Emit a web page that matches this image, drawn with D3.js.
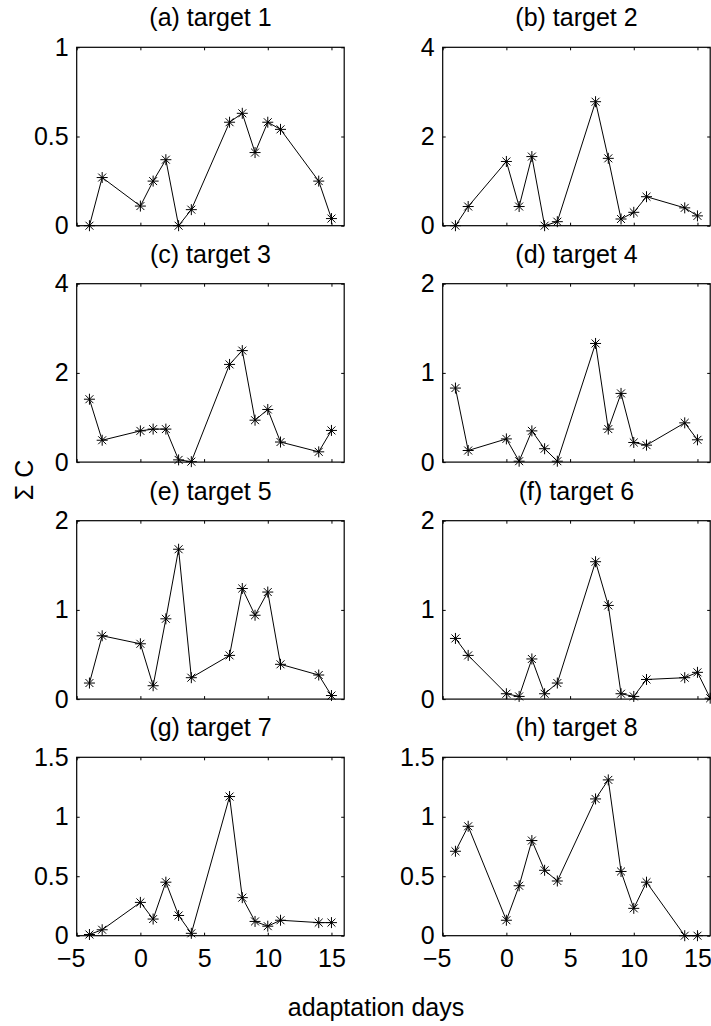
<html>
  <head>
    <meta charset="utf-8" />
    <title>Targets</title>
    <script src="https://d3js.org/d3.v7.min.js"></script>
    <style>
      body {
        margin: 0;
        background: #fff;
      }
      text {
        font-family: "Liberation Sans", Arial, sans-serif;
        fill: #000;
      }
    </style>
  </head>
  <body>
    <svg id="chart"></svg>

    <script>
      // days relative to adaptation start
      var days = [-4, -3, 0, 1, 2, 3, 4, 7, 8, 9, 10, 11, 14, 15];
      var days6 = [-4, -3, 0, 1, 2, 3, 4, 7, 8, 9, 10, 11, 14, 15, 16];

      var target1 = [0, 0.27, 0.11, 0.25, 0.37, 0, 0.09, 0.58, 0.63, 0.41, 0.58, 0.54, 0.25, 0.04];
      var target2 = [0, 0.43, 1.44, 0.43, 1.55, 0, 0.09, 2.78, 1.51, 0.15, 0.30, 0.65, 0.40, 0.22];
      var target3 = [1.41, 0.49, 0.70, 0.74, 0.74, 0.05, 0.01, 2.19, 2.50, 0.94, 1.18, 0.45, 0.23, 0.71];
      var target4 = [0.83, 0.13, 0.26, 0.01, 0.35, 0.15, 0.01, 1.33, 0.37, 0.77, 0.22, 0.19, 0.44, 0.25];
      var target5 = [0.18, 0.71, 0.62, 0.15, 0.90, 1.68, 0.24, 0.49, 1.24, 0.94, 1.20, 0.39, 0.27, 0.04];
      var target6 = [0.68, 0.49, 0.06, 0.03, 0.45, 0.06, 0.18, 1.54, 1.05, 0.06, 0.03, 0.22, 0.24, 0.30, 0.01];
      var target7 = [0.01, 0.05, 0.28, 0.14, 0.45, 0.17, 0.02, 1.17, 0.32, 0.12, 0.08, 0.13, 0.11, 0.11];
      var target8 = [0.71, 0.92, 0.13, 0.42, 0.80, 0.55, 0.46, 1.15, 1.31, 0.54, 0.23, 0.45, 0, 0];

      var titles = ["(a) target 1", "(b) target 2", "(c) target 3", "(d) target 4",
                    "(e) target 5", "(f) target 6", "(g) target 7", "(h) target 8"];
      var yMaxes = [1, 4, 4, 2, 2, 2, 1.5, 1.5];
      var yTicks = [[0, 0.5, 1], [0, 2, 4], [0, 2, 4], [0, 1, 2],
                    [0, 1, 2], [0, 1, 2], [0, 0.5, 1, 1.5], [0, 0.5, 1, 1.5]];
      var xTicks = [-5, 0, 5, 10, 15];
      var xDomain = [-5, 16];

      var series = [target1, target2, target3, target4, target5, target6, target7, target8];
      var xs = [days, days, days, days, days, days6, days, days];

      var width = 711;
      var height = 1026;
      var fontSize = 25;

      var colLeft = [76.7, 442.7];
      var rowTop = [47.3, 283.7, 520.7, 757.3];
      var panelW = 267.5;
      var panelH = 178.4;

      var svg = d3.select("#chart")
        .attr("width", width)
        .attr("height", height);

      var x = d3.scaleLinear().domain(xDomain).range([0, panelW]);

      // asterisk marker: plus + cross
      var r = 5.5, d = r * 0.72;
      var star = "M" + (-r) + ",0H" + r + "M0," + (-r) + "V" + r +
        "M" + (-d) + "," + (-d) + "L" + d + "," + d +
        "M" + (-d) + "," + d + "L" + d + "," + (-d);

      series.forEach(function(vals, i) {
        var col = i % 2;
        var row = Math.floor(i / 2);
        var g = svg.append("g")
          .attr("transform", "translate(" + colLeft[col] + "," + rowTop[row] + ")");

        var y = d3.scaleLinear().domain([0, yMaxes[i]]).range([panelH, 0]);
        var pts = vals.map(function(v, j) { return [xs[i][j], v]; });

        // axes with inward ticks on all four sides
        g.append("g")
          .call(d3.axisLeft(y).tickValues(yTicks[i]).tickSizeInner(-3).tickSizeOuter(0).tickPadding(8)
            .tickFormat(d3.format("")));
        g.append("g").attr("transform", "translate(" + panelW + ",0)")
          .call(d3.axisRight(y).tickValues(yTicks[i]).tickSizeInner(-3).tickSizeOuter(0).tickFormat(""));
        g.append("g")
          .call(d3.axisTop(x).tickValues(xTicks).tickSizeInner(-3).tickSizeOuter(0).tickFormat(""));
        var bottom = g.append("g").attr("transform", "translate(0," + panelH + ")")
          .call(d3.axisBottom(x).tickValues(xTicks).tickSizeInner(-3).tickSizeOuter(0).tickPadding(13.5)
            .tickFormat(row === 3 ? d3.format("") : ""));

        // negative labels sit a little left, as in the original
        bottom.selectAll(".tick text")
          .attr("dx", function(t) { return t < 0 ? -6 : 0; });

        g.selectAll(".domain").remove();
        g.selectAll(".tick line").attr("stroke", "#000").attr("stroke-width", 1);
        g.selectAll(".tick text")
          .style("font-size", fontSize + "px")
          .style("font-family", "'Liberation Sans', Arial, sans-serif")
          .attr("fill", "#000");

        // frame
        g.append("rect")
          .attr("x", 0).attr("y", 0)
          .attr("width", panelW).attr("height", panelH)
          .attr("fill", "none")
          .attr("stroke", "#000")
          .attr("stroke-width", 1.2);

        // title
        g.append("text")
          .attr("x", panelW / 2)
          .attr("y", -21)
          .attr("text-anchor", "middle")
          .style("font-size", fontSize + "px")
          .text(titles[i]);

        var line = d3.line()
          .x(function(p) { return x(p[0]); })
          .y(function(p) { return y(p[1]); });

        g.append("path")
          .datum(pts)
          .attr("d", line)
          .attr("fill", "none")
          .attr("stroke", "#000")
          .attr("stroke-width", 1);

        g.selectAll(".mark")
          .data(pts)
          .enter().append("path")
          .attr("class", "mark")
          .attr("transform", function(p) { return "translate(" + x(p[0]) + "," + y(p[1]) + ")"; })
          .attr("d", star)
          .attr("fill", "none")
          .attr("stroke", "#000")
          .attr("stroke-width", 1);
      });

      // shared axis labels
      svg.append("text")
        .attr("transform", "translate(33,480) rotate(-90)")
        .attr("text-anchor", "middle")
        .style("font-size", fontSize + "px")
        .text("Σ C");

      svg.append("text")
        .attr("x", 376)
        .attr("y", 1016)
        .attr("text-anchor", "middle")
        .style("font-size", fontSize + "px")
        .text("adaptation days");
    </script>
  </body>
</html>
